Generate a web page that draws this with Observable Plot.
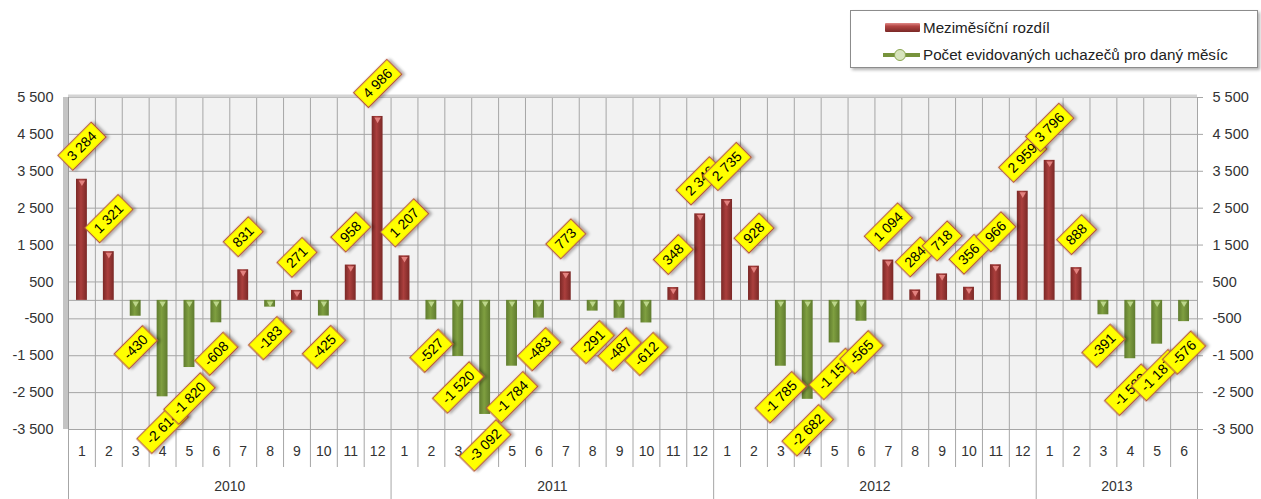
<!DOCTYPE html>
<html>
<head>
<meta charset="utf-8">
<script src="https://cdn.jsdelivr.net/npm/d3@7"></script>
<script src="https://cdn.jsdelivr.net/npm/@observablehq/plot@0.6"></script>
<style>
  body { margin: 0; background: #fff; font-family: "Liberation Sans", Arial, sans-serif; }
  #wrap { position: relative; width: 1261px; height: 499px; overflow: hidden; }
  #legend { position: absolute; left: 850px; top: 10px; width: 406px; height: 56px;
    border: 1px solid #8c8c8c; box-shadow: 2px 2px 3px rgba(0,0,0,0.3); background: #fff;
    font-size: 15.2px; color: #222; }
  #legend .sw-bar { position: absolute; left: 34px; top: 12px; width: 35px; height: 9px;
    background: linear-gradient(to bottom, #e08a88 0%, #b34543 35%, #943634 70%, #7a2826 100%);
    border-radius: 1px; }
  #legend .sw-line { position: absolute; left: 32px; top: 41.5px; width: 37px; height: 4px; background: #77933c; }
  #legend .sw-dot { position: absolute; left: 43px; top: 37.5px; width: 12px; height: 12px; box-sizing: border-box;
    border-radius: 50%; background: #d7e4bd; border: 1.5px solid #8aa64f; }
  #legend .t { position: absolute; left: 72px; line-height: 18px; white-space: nowrap; }
</style>
</head>
<body>
<svg width="0" height="0" style="position:absolute">
  <defs>
    <linearGradient id="gRed" x1="0" x2="1" y1="0" y2="0">
      <stop offset="0%" stop-color="#7a2826"/>
      <stop offset="45%" stop-color="#ab3f3d"/>
      <stop offset="100%" stop-color="#7a2826"/>
    </linearGradient>
    <linearGradient id="gGreen" x1="0" x2="1" y1="0" y2="0">
      <stop offset="0%" stop-color="#5f7b2e"/>
      <stop offset="45%" stop-color="#7f9f40"/>
      <stop offset="100%" stop-color="#5f7b2e"/>
    </linearGradient>
    <filter id="shadow" x="-30%" y="-30%" width="160%" height="160%">
      <feDropShadow dx="2" dy="2" stdDeviation="1.5" flood-color="#000" flood-opacity="0.35"/>
    </filter>
  </defs>
</svg>
<div id="wrap">
  <div id="chart"></div>
  <div id="legend">
    <span class="sw-bar"></span>
    <span class="t" style="top:7.5px">Meziměsíční rozdíl</span>
    <span class="sw-line"></span><span class="sw-dot"></span>
    <span class="t" style="top:34.5px">Počet evidovaných uchazečů pro daný měsíc</span>
  </div>
</div>
<script>
// ---- data ----
const years = [2010, 2011, 2012, 2013];
const monthsPerYear = [12, 12, 12, 6];
const monthLabels = [
  "1","2","3","4","5","6","7","8","9","10","11","12",
  "1","2","3","4","5","6","7","8","9","10","11","12",
  "1","2","3","4","5","6","7","8","9","10","11","12",
  "1","2","3","4","5","6"
];
const values = [
  3284, 1321, -430, -2614, -1820, -608, 831, -183, 271, -425, 958, 4986,
  1207, -527, -1520, -3092, -1784, -483, 773, -291, -487, -612, 348, 2346,
  2735, 928, -1785, -2682, -1154, -565, 1094, 284, 718, 356, 966, 2959,
  3796, 888, -391, -1582, -1187, -576
];
const yTicks = [5500, 4500, 3500, 2500, 1500, 500, -500, -1500, -2500, -3500];

// ---- derived tables ----
const data = values.map((v, i) => ({ i, v, month: monthLabels[i] }));
const yearData = [];
let start = 0;
years.forEach((y, k) => {
  yearData.push({ year: y, start, end: start + monthsPerYear[k] });
  start += monthsPerYear[k];
});
const n = values.length;
const bounds = d3.range(n + 1);
const yearBounds = [0, ...yearData.map(d => d.end)];
const monthBounds = bounds.filter(b => !yearBounds.includes(b));
const pos = data.filter(d => d.v >= 0);
const neg = data.filter(d => d.v < 0);

const fmt = d3.formatLocale({ decimal: ",", thousands: " ", grouping: [3], currency: ["", ""], minus: "-" }).format(",d");
const grid = "#a6a6a6";
const mid = d => d.i + 0.5;
const labelSize = 14;

const chart = Plot.plot({
  width: 1261, height: 499,
  marginLeft: 68, marginRight: 64, marginTop: 97, marginBottom: 70,
  style: { fontFamily: "'Liberation Sans', Arial, sans-serif", fontSize: "14px", color: "#333", background: "transparent", overflow: "visible" },
  x: { domain: [0, n], axis: null, label: null },
  y: { domain: [-3500, 5500], axis: null, label: null },
  marks: [
    Plot.frame({ fill: "#f2f2f2", stroke: null }),
    Plot.gridX(bounds, { stroke: grid, strokeOpacity: 1 }),
    Plot.gridY(yTicks, { stroke: grid, strokeOpacity: 1 }),
    Plot.ruleY([0], { stroke: grid }),
    Plot.ruleY([5500], { stroke: "#d4d4d4", strokeWidth: 3, dy: -1.5 }),
    Plot.ruleX([0], { stroke: "#c4c4c4", strokeWidth: 5, dx: -3 }),
    Plot.ruleX([0], { stroke: "#9a9a9a" }),
    // category axis separators
    Plot.axisX(monthBounds, { anchor: "bottom", tickSize: 38, tickFormat: () => "", stroke: grid }),
    Plot.axisX(yearBounds, { anchor: "bottom", tickSize: 70, tickFormat: () => "", stroke: grid }),
    // value axes
    Plot.axisY(yTicks, { anchor: "left", tickSize: 0, tickPadding: 15, tickFormat: fmt, fontSize: 14.5 }),
    Plot.axisY(yTicks, { anchor: "right", tickSize: 5, tickPadding: 10, tickFormat: fmt, fontSize: 14.5, stroke: grid }),
    // bars
    Plot.rectY(pos, { x1: "i", x2: d => d.i + 1, y1: 0, y2: "v", insetLeft: 8, insetRight: 8, fill: "url(#gRed)" }),
    Plot.rectY(neg, { x1: "i", x2: d => d.i + 1, y1: 0, y2: "v", insetLeft: 8, insetRight: 8, fill: "url(#gGreen)" }),
    Plot.dot(pos, { x: mid, y: "v", symbol: "triangle", rotate: 180, r: 2.4, fill: "#e3827f", dy: 3 }),
    Plot.dot(neg, { x: mid, y: 0, symbol: "triangle", rotate: 180, r: 2.4, fill: "#bcd68a", dy: 3 }),
    // category labels
    Plot.text(data, { x: mid, frameAnchor: "bottom", dy: 26, text: "month", fontSize: 14, fill: "#333" }),
    Plot.text(yearData, { x: d => (d.start + d.end) / 2, frameAnchor: "bottom", dy: 61, text: d => String(d.year), fontSize: 14, fill: "#333" }),
    // data labels
    Plot.text(data, { x: mid, y: "v", text: d => fmt(d.v), rotate: -45, dy: -33, fontSize: labelSize, fill: "#000", filter: d => d.v >= 0 }),
    Plot.text(data, { x: mid, y: "v", text: d => fmt(d.v), rotate: -45, dy: 31, fontSize: labelSize, fill: "#000", filter: d => d.v < 0 })
  ]
});
document.getElementById("chart").appendChild(chart);

// yellow callout boxes behind the rotated data labels
const ctx = document.createElement("canvas").getContext("2d");
ctx.font = labelSize + "px 'Liberation Sans'";
chart.querySelectorAll("text").forEach(t => {
  const tr = t.getAttribute("transform");
  if (!tr || !tr.includes("rotate(")) return;
  const w = ctx.measureText(t.textContent).width + 12, h = 21;
  const r = document.createElementNS("http://www.w3.org/2000/svg", "rect");
  r.setAttribute("x", -w / 2);
  r.setAttribute("y", -h / 2);
  r.setAttribute("width", w);
  r.setAttribute("height", h);
  r.setAttribute("transform", tr);
  r.setAttribute("fill", "#ffff00");
  r.setAttribute("stroke", "#b5533a");
  r.setAttribute("stroke-width", "1.2");
  r.setAttribute("filter", "url(#shadow)");
  t.parentNode.insertBefore(r, t);
});
</script>
</body>
</html>
